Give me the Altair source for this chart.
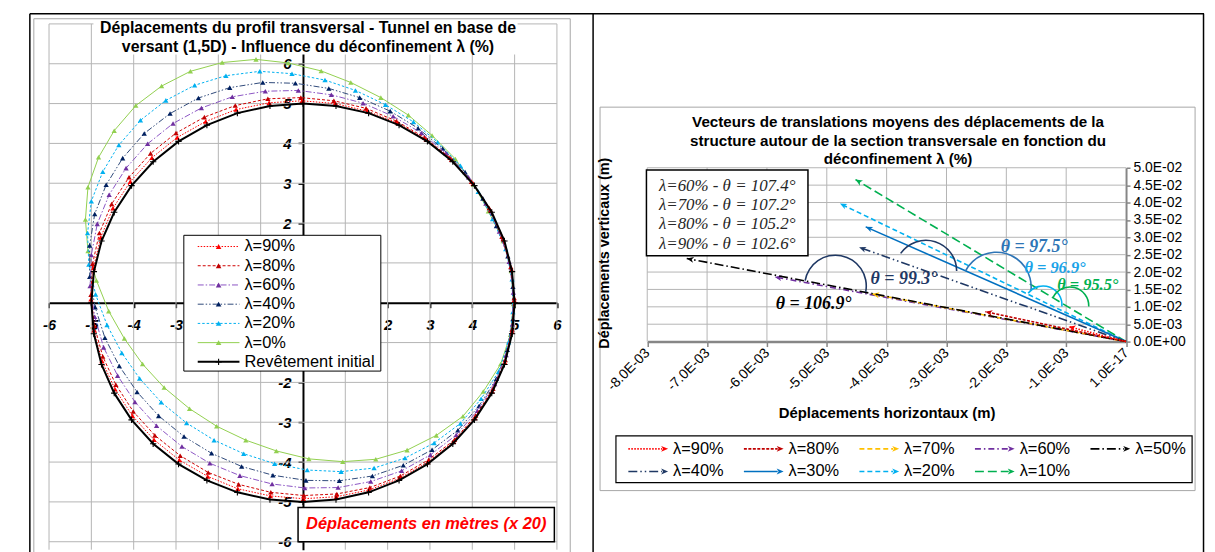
import json
import math
import altair as alt
import pandas as pd

# ====================== DATA ======================
# ---- Left chart: lining nodes, displacements amplified x20 (m) ----
rev_x = [5.00, 4.94, 4.76, 4.46, 4.05, 3.54, 2.94, 2.27, 1.55, 0.78, 0.00, -0.78, -1.55, -2.27, -2.94, -3.54, -4.05, -4.46, -4.76, -4.94,
         -5.00, -4.94, -4.76, -4.46, -4.05, -3.54, -2.94, -2.27, -1.55, -0.78, 0.00, 0.78, 1.55, 2.27, 2.94, 3.54, 4.05, 4.46, 4.76, 4.94]
rev_y = [0.00, 0.78, 1.55, 2.27, 2.94, 3.54, 4.05, 4.46, 4.76, 4.94, 5.00, 4.94, 4.76, 4.46, 4.05, 3.54, 2.94, 2.27, 1.55, 0.78,
         0.00, -0.78, -1.55, -2.27, -2.94, -3.54, -4.05, -4.46, -4.76, -4.94, -5.00, -4.94, -4.76, -4.46, -4.05, -3.54, -2.94, -2.27, -1.55, -0.78]

l90_x = [4.99, 4.93, 4.73, 4.43, 4.02, 3.51, 2.91, 2.24, 1.52, 0.76, -0.02, -0.80, -1.58, -2.30, -2.97, -3.57, -4.08, -4.49, -4.78, -4.95,
         -5.01, -4.94, -4.75, -4.44, -4.03, -3.52, -2.92, -2.25, -1.54, -0.77, 0.01, 0.79, 1.56, 2.28, 2.95, 3.56, 4.06, 4.47, 4.77, 4.94]
l90_y = [0.06, 0.83, 1.60, 2.32, 2.99, 3.59, 4.10, 4.51, 4.81, 5.00, 5.07, 5.02, 4.85, 4.55, 4.15, 3.64, 3.04, 2.37, 1.64, 0.87,
         0.09, -0.69, -1.46, -2.17, -2.84, -3.44, -3.95, -4.36, -4.67, -4.85, -4.92, -4.87, -4.70, -4.41, -4.00, -3.49, -2.89, -2.22, -1.50, -0.73]

l80_x = [4.99, 4.91, 4.70, 4.40, 3.98, 3.47, 2.87, 2.21, 1.49, 0.73, -0.05, -0.83, -1.60, -2.33, -3.00, -3.60, -4.11, -4.52, -4.81, -4.97,
         -5.01, -4.93, -4.73, -4.42, -4.01, -3.50, -2.90, -2.24, -1.52, -0.76, 0.02, 0.80, 1.58, 2.30, 2.97, 3.58, 4.08, 4.49, 4.78, 4.94]
l80_y = [0.12, 0.90, 1.66, 2.38, 3.04, 3.64, 4.15, 4.56, 4.88, 5.07, 5.15, 5.12, 4.95, 4.66, 4.26, 3.75, 3.15, 2.48, 1.75, 0.98,
         0.20, -0.58, -1.35, -2.06, -2.73, -3.33, -3.84, -4.26, -4.56, -4.76, -4.84, -4.80, -4.64, -4.35, -3.94, -3.44, -2.83, -2.16, -1.44, -0.67]

l60_x = [4.97, 4.87, 4.64, 4.32, 3.91, 3.38, 2.80, 2.13, 1.42, 0.67, -0.11, -0.89, -1.67, -2.40, -3.07, -3.67, -4.18, -4.58, -4.86, -5.00,
         -5.03, -4.92, -4.71, -4.38, -3.97, -3.46, -2.86, -2.20, -1.49, -0.73, 0.04, 0.83, 1.60, 2.33, 3.01, 3.62, 4.12, 4.53, 4.80, 4.95]
l60_y = [0.26, 1.03, 1.79, 2.49, 3.15, 3.75, 4.26, 4.68, 5.01, 5.22, 5.33, 5.31, 5.17, 4.89, 4.50, 3.99, 3.38, 2.71, 1.98, 1.20,
         0.42, -0.35, -1.12, -1.83, -2.49, -3.09, -3.61, -4.03, -4.34, -4.55, -4.65, -4.64, -4.49, -4.22, -3.82, -3.32, -2.71, -2.04, -1.31, -0.54]

l40_x = [4.96, 4.84, 4.57, 4.25, 3.83, 3.30, 2.72, 2.06, 1.34, 0.61, -0.18, -0.95, -1.73, -2.47, -3.14, -3.75, -4.26, -4.65, -4.92, -5.04,
         -5.04, -4.91, -4.68, -4.34, -3.92, -3.41, -2.81, -2.16, -1.45, -0.71, 0.07, 0.86, 1.64, 2.37, 3.05, 3.66, 4.16, 4.57, 4.83, 4.96]
l40_y = [0.40, 1.17, 1.93, 2.62, 3.28, 3.87, 4.38, 4.81, 5.15, 5.38, 5.51, 5.53, 5.40, 5.14, 4.75, 4.25, 3.63, 2.96, 2.23, 1.44,
         0.65, -0.11, -0.88, -1.59, -2.24, -2.84, -3.36, -3.78, -4.11, -4.33, -4.46, -4.47, -4.35, -4.08, -3.69, -3.20, -2.59, -1.91, -1.18, -0.41]

l20_x = [4.94, 4.79, 4.48, 4.14, 3.72, 3.18, 2.61, 1.95, 1.24, 0.52, -0.26, -1.02, -1.82, -2.56, -3.24, -3.84, -4.35, -4.73, -5.00, -5.09,
         -5.06, -4.90, -4.63, -4.28, -3.86, -3.35, -2.75, -2.10, -1.40, -0.67, 0.10, 0.90, 1.68, 2.41, 3.10, 3.72, 4.21, 4.62, 4.86, 4.96]
l20_y = [0.59, 1.35, 2.10, 2.79, 3.44, 4.03, 4.54, 4.97, 5.33, 5.59, 5.75, 5.81, 5.70, 5.46, 5.08, 4.58, 3.96, 3.29, 2.55, 1.75,
         0.96, 0.21, -0.56, -1.26, -1.90, -2.50, -3.02, -3.45, -3.79, -4.04, -4.20, -4.24, -4.15, -3.90, -3.52, -3.03, -2.41, -1.73, -0.99, -0.23]

l0_x = [4.92, 4.73, 4.38, 4.03, 3.60, 3.05, 2.49, 1.84, 1.13, 0.43, -0.35, -1.11, -1.91, -2.66, -3.34, -3.95, -4.46, -4.83, -5.08, -5.14,
        -5.08, -4.88, -4.59, -4.22, -3.79, -3.28, -2.68, -2.04, -1.35, -0.63, 0.14, 0.94, 1.72, 2.46, 3.15, 3.78, 4.26, 4.67, 4.90, 4.97]
l0_y = [0.80, 1.55, 2.30, 2.97, 3.61, 4.20, 4.71, 5.15, 5.53, 5.82, 6.02, 6.11, 6.03, 5.81, 5.44, 4.95, 4.32, 3.65, 2.90, 2.09,
        1.30, 0.56, -0.21, -0.90, -1.54, -2.13, -2.66, -3.10, -3.45, -3.72, -3.92, -3.99, -3.93, -3.70, -3.33, -2.85, -2.23, -1.54, -0.80, -0.03]

left_names = ["λ=90%", "λ=80%", "λ=60%", "λ=40%", "λ=20%", "λ=0%", "Revêtement initial"]
left_ticks = [-6, -5, -4, -3, -2, -1, 0, 1, 2, 3, 4, 5, 6]
left_x_hidden = [-2, -1, 0, 1]      # tick labels lying under the legend box
left_y_hidden = [-1, 0, 1]
left_grid_y = [-6, -5, -4, -3, -2, -1, 0, 1, 2, 3, 4, 5, 6, 7]
left_title = ["Déplacements du profil transversal - Tunnel en base de",
              "versant (1,5D) - Influence du déconfinement λ (%)"]
left_note = "Déplacements en mètres (x 20)"

# ---- Right chart: mean translation vectors (m) ----
vec_names = ["λ=90%", "λ=80%", "λ=70%", "λ=60%", "λ=50%", "λ=40%", "λ=30%", "λ=20%", "λ=10%"]
vec_dx = [-0.00096, -0.00235, -0.00424, -0.00587, -0.00734, -0.00446, -0.00435, -0.00478, -0.00452]
vec_dy = [0.0043, 0.0086, 0.0137, 0.0186, 0.0239, 0.0271, 0.0330, 0.0397, 0.0466]
rx_ticks = [-0.008, -0.007, -0.006, -0.005, -0.004, -0.003, -0.002, -0.001, 0.0]
rx_labels = ["-8.0E-03", "-7.0E-03", "-6.0E-03", "-5.0E-03", "-4.0E-03", "-3.0E-03", "-2.0E-03", "-1.0E-03", "1.0E-17"]
ry_ticks = [0.0, 0.005, 0.01, 0.015, 0.02, 0.025, 0.03, 0.035, 0.04, 0.045, 0.05]
ry_labels = ["0.0E+00", "5.0E-03", "1.0E-02", "1.5E-02", "2.0E-02", "2.5E-02", "3.0E-02", "3.5E-02", "4.0E-02", "4.5E-02", "5.0E-02"]
right_title = ["Vecteurs de translations moyens des déplacements de la",
               "structure autour de la section transversale en fonction du",
               "déconfinement λ (%)"]
box_lines = ["λ=60% - θ = 107.4°", "λ=70% - θ = 107.2°", "λ=80% - θ = 105.2°", "λ=90% - θ = 102.6°"]
theta_texts = ["θ = 106.9°", "θ = 99.3°", "θ = 97.5°", "θ = 96.9°", "θ = 95.5°"]
x_title = "Déplacements horizontaux (m)"
y_title = "Déplacements verticaux (m)"

# ====================== LAYOUT / STYLE ======================
W, H = 1207, 544
FONT = "Liberation Sans"
SERIF = "Liberation Serif"
GRID = "#b4b4b4"
ONE = pd.DataFrame({"k": [0]})


def px(v):
    return v - 8


def T(s, x, y, size, color="black", weight="normal", style="normal", font=FONT, align="center", angle=None):
    kw = dict(text=s, font=font, fontSize=size, color=color, fontWeight=weight,
              fontStyle=style, align=align, baseline="middle")
    if angle is not None:
        kw["angle"] = angle
    return alt.Chart(ONE).mark_text(**kw).encode(x=alt.value(px(x)), y=alt.value(px(y)))


def R(x0, y0, x1, y1, fill="white", stroke=None, sw=1.0, hollow=False):
    kw = dict(fill=fill)
    if hollow:
        kw["fillOpacity"] = 0
    if stroke:
        kw["stroke"] = stroke
        kw["strokeWidth"] = sw
    return alt.Chart(ONE).mark_rect(**kw).encode(
        x=alt.value(px(x0)), x2=alt.value(px(x1)), y=alt.value(px(y0)), y2=alt.value(px(y1)))


def Lh(x0, x1, y, color, sw, dash=None):
    kw = dict(color=color, strokeWidth=sw)
    if dash:
        kw["strokeDash"] = dash
    return alt.Chart(ONE).mark_rule(**kw).encode(x=alt.value(px(x0)), x2=alt.value(px(x1)), y=alt.value(px(y)))


def Lv(x, y0, y1, color, sw):
    return alt.Chart(ONE).mark_rule(color=color, strokeWidth=sw).encode(
        x=alt.value(px(x)), y=alt.value(px(y0)), y2=alt.value(px(y1)))


def P(x, y, shape, color, size, filled=True, angle=None, sw=1.0):
    kw = dict(shape=shape, color=color, size=size, filled=filled, opacity=1, strokeWidth=sw)
    if angle is not None:
        kw["angle"] = angle
    return alt.Chart(ONE).mark_point(**kw).encode(x=alt.value(px(x)), y=alt.value(px(y)))


CROSS = "M-1,0L1,0M0,-1L0,1"
ARROW = "M0,0L-2,-0.85L-1.45,0L-2,0.85Z"

# ---------------- LEFT CHART ----------------
L_X0, L_X1 = 49.3, 560.6      # page px of x=-6 / x=6
L_YB, L_YT = 551.5, 22.2      # page px of y=-6.2 / y=7
LX = alt.Scale(domain=[-6, 6], range=[px(L_X0), px(L_X1)], nice=False, zero=False)
LY = alt.Scale(domain=[-6.2, 7], range=[px(L_YB), px(L_YT)], nice=False, zero=False)
lx0 = px(L_X0) + (px(L_X1) - px(L_X0)) * 6 / 12
ly0 = px(L_YB) - (px(L_YB) - px(L_YT)) * 6.2 / 13.2

lab = dict(labelFont=FONT, labelFontSize=15, labelFontWeight="bold", labelFontStyle="italic",
           labelColor="black", labelFlush=False, labelOverlap=False, grid=False, title=None,
           domainColor="black", domainWidth=2, tickColor="black", tickWidth=1.5, tickSize=5)
LXA = alt.Axis(orient="bottom", offset=ly0 - H, values=[v for v in left_ticks if v not in left_x_hidden],
               labelPadding=10, labelExpr="'' + datum.value", **lab)
LYA = alt.Axis(orient="left", offset=-lx0, values=[v for v in left_ticks if v not in left_y_hidden],
               labelPadding=7, labelExpr="'' + datum.value", **lab)


def lxe(f):
    return alt.X(f + ":Q", scale=LX, axis=LXA)


def lye(f):
    return alt.Y(f + ":Q", scale=LY, axis=LYA)


left_layers = []
gx = [v for v in left_ticks if v != 0]
left_layers.append(alt.Chart(pd.DataFrame({"v": gx, "a": [-6.2] * len(gx), "b": [7.0] * len(gx)}))
                   .mark_rule(color=GRID, strokeWidth=1).encode(x=lxe("v"), y=lye("a"), y2="b"))
gy = [v for v in left_grid_y if v != 0]
left_layers.append(alt.Chart(pd.DataFrame({"v": gy, "a": [-6.0] * len(gy), "b": [6.0] * len(gy)}))
                   .mark_rule(color=GRID, strokeWidth=1).encode(y=lye("v"), x=lxe("a"), x2="b"))

# name, xs, ys, line colour, marker colour, dash, width
left_styles = [
    (left_names[5], l0_x, l0_y, "#92D050", "#92D050", None, 1.0),
    (left_names[4], l20_x, l20_y, "#00B0F0", "#00B0F0", [2.5, 2], 1.0),
    (left_names[3], l40_x, l40_y, "#2F4A7A", "#002060", [6, 2, 1.5, 2, 1.5, 2], 1.0),
    (left_names[2], l60_x, l60_y, "#8B55C4", "#7030A0", [6, 2, 1.5, 2], 1.0),
    (left_names[1], l80_x, l80_y, "#D00000", "#C00000", [3, 2], 1.0),
    (left_names[0], l90_x, l90_y, "#FF0000", "#FF0000", [1.5, 1.5], 1.0),
    (left_names[6], rev_x, rev_y, "black", "black", None, 2.0),
]
for name, xs, ys, lc, mc, dash, lw in left_styles:
    df = pd.DataFrame({"x": xs + xs[:1], "y": ys + ys[:1], "o": list(range(len(xs) + 1))})
    kw = dict(color=lc, strokeWidth=lw)
    if dash:
        kw["strokeDash"] = dash
    left_layers.append(alt.Chart(df).mark_line(**kw).encode(x=lxe("x"), y=lye("y"), order="o:Q"))
    if name == left_names[6]:
        pm = alt.Chart(df.iloc[:-1]).mark_point(shape=CROSS, filled=False, size=40, color="black",
                                               strokeWidth=1.1, opacity=1)
    else:
        pm = alt.Chart(df.iloc[:-1]).mark_point(shape="triangle-up", filled=True, size=28, color=mc, opacity=1)
    left_layers.append(pm.encode(x=lxe("x"), y=lye("y")))

# title box
left_layers.append(R(94, 19, 521, 53))
left_layers.append(T(left_title[0], 310, 26, 16, weight="bold"))
left_layers.append(T(left_title[1], 310, 45, 16, weight="bold"))

# legend
left_layers.append(R(185, 235, 383.3, 371.7, stroke="black", sw=1))
order = [5, 4, 3, 2, 1, 0, 6]  # legend order 90,80,60,40,20,0,Rev (indices into left_styles)
for i, si in enumerate(order):
    name, xs, ys, lc, mc, dash, lw = left_styles[si]
    y = 246.3 + i * 19.35
    left_layers.append(Lh(199, 241, y, lc, lw, dash))
    if name == left_names[6]:
        left_layers.append(P(220, y, CROSS, "black", 40, filled=False, sw=1.1))
    else:
        left_layers.append(P(220, y, "triangle-up", mc, 32))
    left_layers.append(T(name, 246, y, 16.5, align="left"))

# note box
left_layers.append(R(300, 509, 558, 543.5, stroke="black", sw=1.5))
left_layers.append(T(left_note, 429, 526, 16.5, color="#FF0000", weight="bold", style="italic"))

# chart-area frame
left_layers.append(R(34, 17, 574, 600, stroke="#a6a6a6", sw=1, hollow=True))

# ---------------- RIGHT CHART ----------------
R_X0, R_X1 = 651.5, 1133.5
R_YB, R_YT = 342.0, 167.0
RX = alt.Scale(domain=[-0.008, 0.0], range=[px(R_X0), px(R_X1)], nice=False, zero=False)
RY = alt.Scale(domain=[0.0, 0.05], range=[px(R_YB), px(R_YT)], nice=False, zero=False)
rlab = dict(labelFont=FONT, labelFontSize=14, labelColor="black", labelFlush=False, labelOverlap=False,
            grid=False, title=None, domainColor="#868686", tickColor="#868686", tickWidth=1.5)
RXA = alt.Axis(orient="bottom", offset=px(R_YB) - H, values=rx_ticks,
               labelExpr=json.dumps(rx_labels) + "[round(datum.value*1000)+8]",
               labelAngle=315, labelAlign="right", labelBaseline="middle", labelPadding=4,
               domainWidth=2.5, tickSize=5, **rlab)
RYA = alt.Axis(orient="right", offset=px(R_X1) - W, values=ry_ticks,
               labelExpr=json.dumps(ry_labels) + "[round(datum.value*200)]",
               labelAlign="left", labelBaseline="middle", labelPadding=3,
               domainWidth=2, tickSize=4, **rlab)


def rxe(f):
    return alt.X(f + ":Q", scale=RX, axis=RXA)


def rye(f):
    return alt.Y(f + ":Q", scale=RY, axis=RYA)


right_layers = [R(604, 106, 1203, 492, stroke="#a6a6a6", sw=1, hollow=True)]
gxr = [v for v in rx_ticks if v != 0]
right_layers.append(alt.Chart(pd.DataFrame({"v": gxr, "a": [0.0] * len(gxr), "b": [0.05] * len(gxr)}))
                    .mark_rule(color=GRID, strokeWidth=1).encode(x=rxe("v"), y=rye("a"), y2="b"))
gyr = [v for v in ry_ticks if v != 0]
right_layers.append(alt.Chart(pd.DataFrame({"v": gyr, "a": [-0.008] * len(gyr), "b": [0.0] * len(gyr)}))
                    .mark_rule(color=GRID, strokeWidth=1).encode(y=rye("v"), x=rxe("a"), x2="b"))

vcolors = ["#FF0000", "#C00000", "#FFC000", "#7030A0", "#000000", "#1F3864", "#0070C0", "#00B0F0", "#00B050"]
vdash = [[1.5, 1.5], [3, 1.5], [5, 3], [6, 3, 1.5, 3], [9, 3, 1.5, 3], [9, 3, 1.5, 3, 1.5, 3], None, [5, 3], [9, 4]]
sxp = (R_X1 - R_X0) / 0.008
syp = (R_YB - R_YT) / 0.05

# text box (behind the vectors)
right_layers.append(R(650.7, 169.3, 813.3, 255.7, stroke="black", sw=1.5))
for i, s in enumerate(box_lines):
    right_layers.append(T(s, 732, 185.5 + i * 19.3, 17, color="#262626", style="italic", font=SERIF))

draw_order = [8, 7, 6, 5, 3, 2, 4, 1, 0]
for i in draw_order:
    df = pd.DataFrame({"x0": [0.0], "y0": [0.0], "x1": [vec_dx[i]], "y1": [vec_dy[i]]})
    kw = dict(color=vcolors[i], strokeWidth=1.6)
    if vdash[i]:
        kw["strokeDash"] = vdash[i]
    right_layers.append(alt.Chart(df).mark_rule(**kw).encode(x=rxe("x0"), y=rye("y0"), x2="x1", y2="y1"))
    ang = math.degrees(math.atan2(-vec_dy[i] * syp, vec_dx[i] * sxp)) % 360
    right_layers.append(alt.Chart(df).mark_point(shape=ARROW, filled=True, size=49, color=vcolors[i],
                                                 opacity=1, angle=ang).encode(x=rxe("x1"), y=rye("y1")))

# angle arcs: centre x, centre y, radius, start, end (deg, clockwise from 12 o'clock), colour
arcs = [(841, 286, 31, 280, 461, "#1F3864"),
        (932, 271, 31, 305, 450, "#1F3864"),
        (1003, 287, 35, 297, 455, "#2E75B6"),
        (1050, 305, 19, 308, 455, "#00B0F0"),
        (1077, 306, 19, 296, 452, "#00B050")]
for cx, cy, r, a0, a1, c in arcs:
    right_layers.append(alt.Chart(ONE).mark_arc(radius=r + 0.8, radius2=r - 0.8, theta=math.radians(a0),
                                                theta2=math.radians(a1), color=c)
                        .encode(x=alt.value(px(cx)), y=alt.value(px(cy))))
theta_pos = [(819, 304, "black", 18), (910, 279, "#1F3864", 18), (1041, 247, "#2E75B6", 18),
             (1062, 267.5, "#1AA3E8", 16.5), (1095, 285, "#00B050", 16.5)]
for s, (x, y, c, fs) in zip(theta_texts, theta_pos):
    right_layers.append(T(s, x, y, fs, color=c, weight="bold", style="italic", font=SERIF))

# titles
for i, s in enumerate(right_title):
    right_layers.append(T(s, 904, 121 + i * 18.8, 15.3, weight="bold"))
right_layers.append(T(x_title, 893, 414, 15, weight="bold"))
right_layers.append(T(y_title, 609, 253, 14.5, weight="bold", angle=270))

# legend
right_layers.append(R(620, 437, 1200, 484, stroke="black", sw=1.2))
for i, name in enumerate(vec_names):
    r, c = divmod(i, 5)
    x0 = 632.5 + c * 116.3
    y = 450 + r * 22.7
    right_layers.append(Lh(x0, x0 + 34, y, vcolors[i], 1.6, vdash[i]))
    right_layers.append(P(x0 + 40, y, ARROW, vcolors[i], 49, angle=0))
    right_layers.append(T(name, x0 + 45, y, 16.5, align="left"))

# ---------------- TABLE FRAME ----------------
frame_layers = [
    Lh(30, 1212, 12, "black", 1.5),
    Lv(30, 12, 560, "black", 1.5),
    Lv(597, 12, 560, "black", 1.5),
    Lv(1211.5, 12, 560, "black", 1.5),
]

left = alt.layer(*left_layers)
right = alt.layer(*right_layers)
frame = alt.layer(*frame_layers)

chart = (alt.layer(left, right, frame)
         .resolve_scale(x="independent", y="independent")
         .properties(width=W, height=H, autosize=alt.AutoSizeParams(type="none"), padding=0,
                     background="white")
         .configure_view(stroke=None))

chart.save("out.html", embed_options={"renderer": "svg", "actions": False})
